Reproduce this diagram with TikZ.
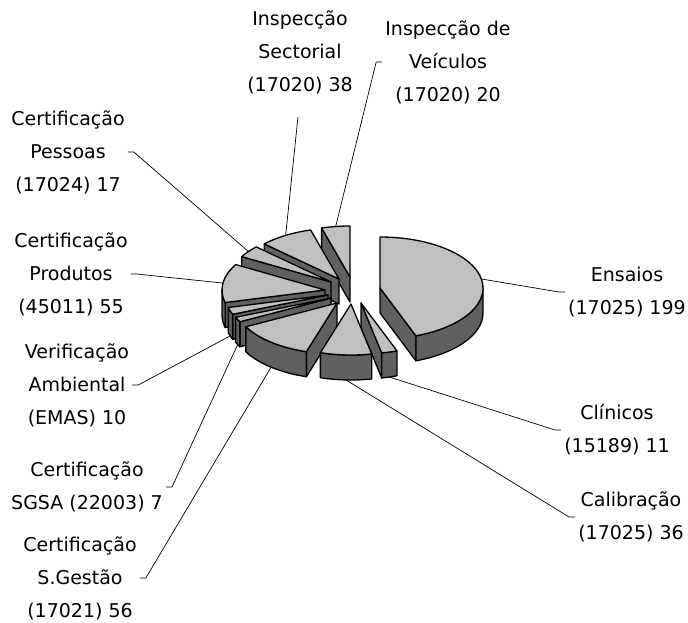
\documentclass[tikz,border=0pt]{standalone}
\usepackage{fontspec}
\setmainfont{DejaVu Sans}
\usetikzlibrary{calc}
\definecolor{pielight}{RGB}{192,192,192}
\definecolor{piedark}{RGB}{96,96,96}
% top face, outer wall and cut face of one slice
\newcommand{\pietop}[3]{\filldraw[pietop] (#1) -- ++(#2:103 and 51) arc[start angle=#2, end angle=#3, x radius=103, y radius=51] -- cycle;}
\newcommand{\piewall}[3]{\filldraw[pieside] ($(#1)+(#2:103 and 51)$) arc[start angle=#2, end angle=#3, x radius=103, y radius=51] -- ++(0,-25) arc[start angle=#3, end angle=#2, x radius=103, y radius=51] -- cycle;}
\newcommand{\pieface}[2]{\filldraw[pieside] (#1) -- ++(#2:103 and 51) -- ++(0,-25) -- ($(#1)+(0,-25)$) -- cycle;}
\begin{document}
\begin{tikzpicture}[x=1pt, y=1pt,
lbl/.style = {align = center, inner sep = 3pt, font = \fontsize{19}{33}\selectfont},
pietop/.style = {fill = pielight, draw = black, line width = 1.3pt, line join = round},
pieside/.style = {pietop, fill = piedark},
lead/.style = {line width = 0.7pt}]

\useasboundingbox (0,0) rectangle (688,-622);

\coordinate (c-vei) at (350,-277);
\coordinate (c-sec) at (339,-279);
\coordinate (c-pes) at (331,-282);
\coordinate (c-pro) at (325,-290);
\coordinate (c-ema) at (328,-295);
\coordinate (c-sgs) at (331,-298);
\coordinate (c-ges) at (337,-303);
\coordinate (c-cal) at (351,-304);
\coordinate (c-cli) at (361,-303);
\coordinate (c-ens) at (380,-288);

% slices, back to front
\pieface{c-vei}{106} \pietop{c-vei}{90}{106}
\pieface{c-sec}{136.5} \pietop{c-sec}{106}{136.5}
\pieface{c-pes}{150.1} \pietop{c-pes}{136.5}{150.1}
\pieface{c-pro}{194.2} \piewall{c-pro}{180}{194.2} \pietop{c-pro}{150.1}{194.2}
\pieface{c-ema}{202.2} \piewall{c-ema}{194.2}{202.2} \pietop{c-ema}{194.2}{202.2}
\pieface{c-sgs}{207.8} \piewall{c-sgs}{202.2}{207.8} \pietop{c-sgs}{202.2}{207.8}
\pieface{c-ges}{252.7} \piewall{c-ges}{207.8}{252.7} \pietop{c-ges}{207.8}{252.7}
\pieface{c-cli}{281.6} \piewall{c-cli}{281.6}{290.4} \pietop{c-cli}{281.6}{290.4}
\piewall{c-cal}{252.7}{281.6} \pietop{c-cal}{252.7}{281.6}
\pieface{c-ens}{290.4} \piewall{c-ens}{290.4}{360} \pietop{c-ens}{290.4}{450}

% labels
\node[lbl] (sec) at (300,-52) {Inspecção\\Sectorial\\(17020) 38};
\node[lbl] (vei) at (448,-62) {Inspecção de\\Veículos\\(17020) 20};
\node[lbl] (pes) at (68,-152) {Certificação\\Pessoas\\(17024) 17};
\node[lbl] (pro) at (71,-274) {Certificação\\Produtos\\(45011) 55};
\node[lbl] (ema) at (77,-385) {Verificação\\Ambiental\\(EMAS) 10};
\node[lbl] (sgs) at (87,-487) {Certificação\\SGSA (22003) 7};
\node[lbl] (ges) at (80,-578) {Certificação\\S.Gestão\\(17021) 56};
\node[lbl] (ens) at (627,-292) {Ensaios\\(17025) 199};
\node[lbl] (cli) at (617,-430) {Clínicos\\(15189) 11};
\node[lbl] (cal) at (631,-517) {Calibração\\(17025) 36};

\coordinate (sec-tip) at ($(c-sec)+(121.2:103 and 51)$);
\coordinate (vei-tip) at ($(c-vei)+(98:103 and 51)$);
\coordinate (pes-tip) at ($(c-pes)+(143.3:103 and 51)$);
\coordinate (pro-tip) at ($(c-pro)+(172.2:103 and 51)$);
\coordinate (ema-tip) at ($(c-ema)+(198.2:103 and 51)+(0,-25)$);
\coordinate (sgs-tip) at ($(c-sgs)+(205:103 and 51)+(0,-25)$);
\coordinate (ges-tip) at ($(c-ges)+(230.2:103 and 51)+(0,-25)$);
\coordinate (cal-tip) at ($(c-cal)+(267.2:103 and 51)+(0,-25)$);
\coordinate (cli-tip) at ($(c-cli)+(286:103 and 51)+(0,-25)$);
\coordinate (ens-tip) at ($(c-ens)+(10.2:103 and 51)$);

% leader lines
\draw[lead] ($(sec.south)+(-2,-20)$) -- (sec-tip);
\draw[lead] (vei.west) -- ++(-6,0) -- (vei-tip);
\draw[lead] (pes.east) -- ++(6,0) -- (pes-tip);
\draw[lead] (pro.east) -- ++(6,0) -- (pro-tip);
\draw[lead] (ema.east) -- ++(6,0) -- (ema-tip);
\draw[lead] (sgs.east) -- ++(6,0) -- (sgs-tip);
\draw[lead] (ges.east) -- ++(6,0) -- (ges-tip);
\draw[lead] (ens.west) -- ++(-6,0) -- (ens-tip);
\draw[lead] (cli.west) -- ++(-6,0) -- (cli-tip);
\draw[lead] (cal.west) -- ++(-6,0) -- (cal-tip);

\end{tikzpicture}
\end{document}
